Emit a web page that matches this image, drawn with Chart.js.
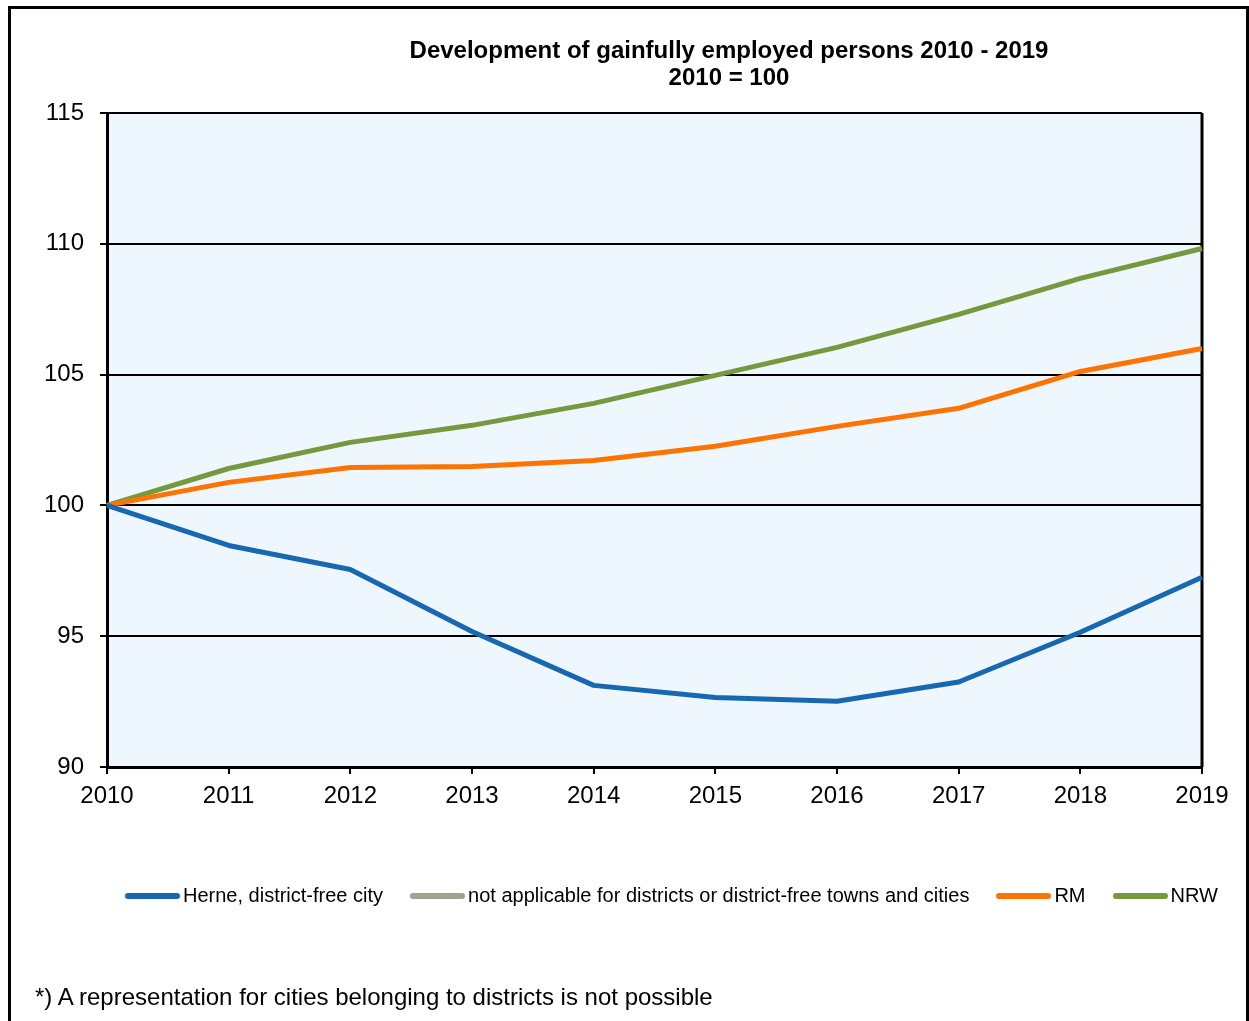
<!DOCTYPE html>
<html>
<head>
<meta charset="utf-8">
<script src="https://cdn.jsdelivr.net/npm/chart.js@4"></script>
<style>
  body { margin: 0; background: #fff; font-family: "Liberation Sans", Arial, sans-serif; }
  #wrap { position: relative; width: 1249px; height: 1021px; overflow: hidden; }
  #frame { position: absolute; left: 8px; top: 6px; width: 1235px; height: 1100px; border: 3px solid #000; border-right-width: 4px; }
  #chartbox { position: absolute; left: 0; top: 0; width: 1249px; height: 1021px; }
  #title { position: absolute; left: 229px; width: 1000px; top: 36px; text-align: center; font-weight: bold; font-size: 24px; line-height: 27px; color: #000; }
  #legend { position: absolute; left: 125px; top: 884px; display: flex; gap: 27px; font-size: 20px; color: #000; white-space: nowrap; }
  #legend .item { display: flex; align-items: center; }
  #legend .swatch { width: 55px; height: 6px; border-radius: 3px; margin-right: 3px; }
  #note { position: absolute; left: 35px; top: 983px; font-size: 24px; color: #000; white-space: nowrap; }
</style>
</head>
<body>
<div id="wrap">
  <div id="frame"></div>
  <div id="chartbox"><canvas id="empchart" width="1249" height="1021"></canvas></div>
  <div id="title">Development of gainfully employed persons 2010 - 2019<br>2010 = 100</div>
  <div id="legend"></div>
  <div id="note">*) A representation for cities belonging to districts is not possible</div>
</div>
<script>
// Daten
var years = ["2010", "2011", "2012", "2013", "2014", "2015", "2016", "2017", "2018", "2019"];
var herne = [100, 98.47, 97.55, 95.18, 93.12, 92.66, 92.51, 93.25, 95.15, 97.25];
var notApplicable = [];
var rm = [100, 100.88, 101.45, 101.49, 101.72, 102.26, 103.02, 103.71, 105.12, 106.0];
var nrw = [100, 101.41, 102.41, 103.06, 103.9, 104.97, 106.04, 107.3, 108.68, 109.82];
var yTicks = [90, 95, 100, 105, 110, 115];

var tickFont = { family: "Liberation Sans", size: 24 };

// Hintergrund und Rahmen der Zeichenfläche
var plotFrame = {
    id: 'plotFrame',
    beforeDraw: function (chart) {
        var a = chart.chartArea, c = chart.ctx;
        c.save();
        c.fillStyle = '#eef6fe';
        c.fillRect(a.left, a.top, a.right - a.left, a.bottom - a.top);
        c.restore();
    },
    beforeDatasetsDraw: function (chart) {
        var a = chart.chartArea, c = chart.ctx;
        c.save();
        c.strokeStyle = '#000';
        c.lineWidth = 3;
        c.beginPath();
        c.moveTo(a.right, a.top);
        c.lineTo(a.right, a.bottom);
        c.stroke();
        c.restore();
    }
};

// HTML-Legende
var htmlLegend = {
    id: 'htmlLegend',
    afterUpdate: function (chart) {
        var box = document.getElementById('legend');
        box.innerHTML = '';
        chart.data.datasets.forEach(function (ds) {
            var item = document.createElement('div');
            item.className = 'item';
            var sw = document.createElement('span');
            sw.className = 'swatch';
            sw.style.background = ds.borderColor;
            var txt = document.createElement('span');
            txt.textContent = ds.label;
            item.appendChild(sw);
            item.appendChild(txt);
            box.appendChild(item);
        });
    }
};

var ctx = document.getElementById('empchart').getContext('2d');
var myChart = new Chart(ctx, {
    type: 'line',
    data: {
        labels: years,
        datasets: [
            { label: 'Herne, district-free city', data: herne, borderColor: '#1767b1' },
            { label: 'not applicable for districts or district-free towns and cities', data: notApplicable, borderColor: '#a2a293' },
            { label: 'RM', data: rm, borderColor: '#ff7300' },
            { label: 'NRW', data: nrw, borderColor: '#76993f' }
        ]
    },
    options: {
        responsive: false,
        animation: false,
        devicePixelRatio: 1,
        layout: { padding: { top: 113, right: 47, bottom: 194, left: 0 } },
        elements: {
            line: { borderWidth: 5, tension: 0, fill: false, borderJoinStyle: 'round' },
            point: { radius: 0, hoverRadius: 0 }
        },
        plugins: {
            legend: { display: false },
            title: { display: false },
            tooltip: { enabled: false }
        },
        scales: {
            x: {
                offset: false,
                afterFit: function (s) { s.height = 60; },
                grid: { drawOnChartArea: false, drawTicks: true, tickLength: 7, color: '#000', lineWidth: 2 },
                border: { display: true, color: '#000', width: 3 },
                ticks: { color: '#000', font: tickFont, padding: 8, maxRotation: 0, autoSkip: false }
            },
            y: {
                min: 90,
                max: 115,
                afterFit: function (s) { s.width = 107; },
                afterBuildTicks: function (s) { s.ticks = yTicks.map(function (v) { return { value: v }; }); },
                grid: { color: '#000', lineWidth: 2, tickLength: 7 },
                border: { display: true, color: '#000', width: 3 },
                ticks: { color: '#000', font: tickFont, padding: 16 }
            }
        }
    },
    plugins: [plotFrame, htmlLegend]
});
</script>
</body>
</html>
